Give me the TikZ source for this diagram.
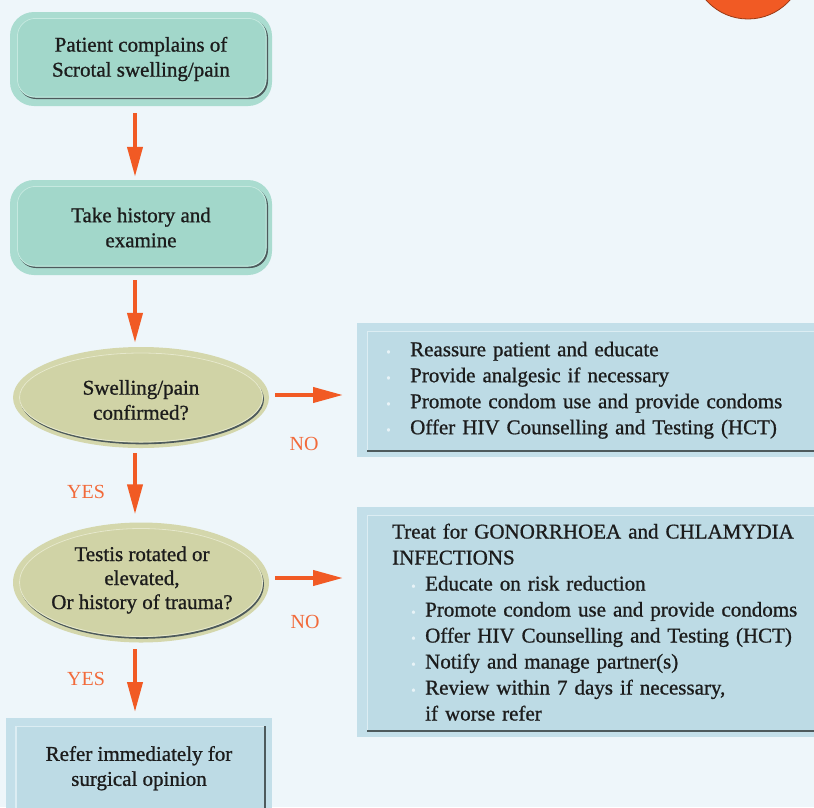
\documentclass[tikz,border=0pt]{standalone}
\usepackage{fontspec}
\setmainfont{Liberation Serif}[AutoFakeBold=0.9]
\usetikzlibrary{shapes.geometric,arrows.meta,calc}
\definecolor{bgc}{HTML}{EEF6FA}
\definecolor{tealout}{HTML}{AADCD0}
\definecolor{tealin}{HTML}{A2D7CA}
\definecolor{tealhi}{HTML}{C6E9E0}
\definecolor{khakiout}{HTML}{D4D7AC}
\definecolor{khakiin}{HTML}{D0D3A6}
\definecolor{khakihi}{HTML}{E6E8CC}
\definecolor{blueout}{HTML}{C3DFE9}
\definecolor{bluein}{HTML}{BDDBE5}
\definecolor{bluehi}{HTML}{DCEDF3}
\definecolor{shadec}{HTML}{4D5A5C}
\definecolor{arrowc}{HTML}{F15A24}
\definecolor{badgeedge}{HTML}{9A3A16}
\definecolor{labelc}{HTML}{F26A3A}
\definecolor{txt}{HTML}{1C1C1C}
\definecolor{bulc}{HTML}{E8F3F7}
\newcommand\bulitem{\makebox[24pt][l]{\textcolor{bulc}{\fontsize{13}{13}\selectfont •}}}
\newcommand\bulitemB{\makebox[14pt][l]{\textcolor{bulc}{\fontsize{13}{13}\selectfont •}}}
\begin{document}
\begin{tikzpicture}[x=1pt,y=-1pt,
  txtfont/.style={font=\fontsize{21}{25}\selectfont\bfseries, text=txt},
  bodyfont/.style={font=\fontsize{21}{26}\selectfont\bfseries, text=txt},
  lab/.style={font=\fontsize{20}{20}\selectfont, text=labelc, inner sep=0pt},
  flow/.style={draw=arrowc, line width=4pt, -{Triangle[width=15pt,length=30pt]}},
  rbox/.style={rectangle, rounded corners=24pt, fill=tealout, minimum width=262pt,
    align=center, txtfont, path picture={
      \fill[shadec, draw=none, rounded corners=18pt]
        ([shift={(8,7.5)}]path picture bounding box.north west) rectangle
        ([shift={(-4,-7)}]path picture bounding box.south east);
      \fill[tealin, draw=none, rounded corners=18pt]
        ([shift={(7,6)}]path picture bounding box.north west) rectangle
        ([shift={(-5.5,-8.5)}]path picture bounding box.south east);
      \draw[tealhi, fill=none, line width=0.8pt, rounded corners=18pt]
        ([shift={(7.4,6.4)}]path picture bounding box.north west) rectangle
        ([shift={(-5.9,-8.9)}]path picture bounding box.south east);
    }},
  ebox/.style 2 args={ellipse, inner sep=0pt, fill=khakiout, minimum width=256pt,
    path picture={
      \fill[shadec, draw=none] ([shift={(1,1.8)}]path picture bounding box.center)
        ellipse [x radius=#1, y radius=#2];
      \fill[khakiin, draw=none] (path picture bounding box.center)
        ellipse [x radius=#1, y radius=#2];
      \draw[khakihi, fill=none, line width=0.8pt] (path picture bounding box.center)
        ellipse [x radius=#1-0.5pt, y radius=#2-0.5pt];
    }},
  bbox/.style={rectangle, fill=blueout, path picture={
      \fill[bluein, draw=none]
        ([shift={(10,8)}]path picture bounding box.north west) rectangle
        ([shift={(-7,-6)}]path picture bounding box.south east);
      \draw[bluehi, fill=none, line width=1.2pt]
        ([shift={(10,-6)}]path picture bounding box.south west) --
        ([shift={(10,8)}]path picture bounding box.north west) --
        ([shift={(-7,8)}]path picture bounding box.north east);
      \draw[shadec, fill=none, line width=1.6pt]
        ([shift={(10,-6)}]path picture bounding box.south west) --
        ([shift={(-7,-6)}]path picture bounding box.south east) --
        ([shift={(-7,8)}]path picture bounding box.north east);
    }}]
\useasboundingbox (0,0) rectangle (814,807);
\fill[bgc] (0,0) rectangle (814,807);

% decorative badge
\node[circle, fill=arrowc, draw=badgeedge, line width=0.8pt, minimum size=112pt, inner sep=0pt] (badge) at (748,-37) {};

% left column
\node[rbox, minimum height=94pt] (b1) at (141,59) {Patient complains of\\Scrotal swelling/pain};
\node[rbox, minimum height=95pt] (b2) at (141,227.5) {Take history and\\examine};
\node[ebox={122pt}{45pt}, minimum height=101pt] (e1) at (141,397.5) {};
\node[txtfont, align=center] (e1t) at (141,400) {Swelling/pain\\confirmed?};
\node[ebox={122pt}{54.5pt}, minimum height=120pt] (e2) at (141,582.5) {};
\node[txtfont, align=center, font=\fontsize{21}{24}\selectfont\bfseries] (e2t) at (142,580) {Testis rotated or\\elevated,\\Or history of trauma?};
\node[bbox, txtfont, anchor=north, minimum width=266pt, minimum height=100pt, align=center] (b3) at (139,718) {Refer immediately for\\surgical opinion};

% right column
\node[bbox, bodyfont, anchor=north west, minimum height=134pt, text width=440pt, inner xsep=29pt, align=left] (r1) at (357,323)
  {\bulitem Reassure patient and educate\\
   \bulitem Provide analgesic if necessary\\
   \bulitem Promote condom use and provide condoms\\
   \bulitem Offer HIV Counselling and Testing (HCT)};
\node[bbox, bodyfont, anchor=north west, minimum height=230pt, text width=440pt, inner xsep=35pt, align=left] (r2) at (357,507)
  {Treat for GONORRHOEA and CHLAMYDIA\\
   INFECTIONS\\
   \hspace*{19pt}\bulitemB Educate on risk reduction\\
   \hspace*{19pt}\bulitemB Promote condom use and provide condoms\\
   \hspace*{19pt}\bulitemB Offer HIV Counselling and Testing (HCT)\\
   \hspace*{19pt}\bulitemB Notify and manage partner(s)\\
   \hspace*{19pt}\bulitemB Review within 7 days if necessary,\\
   \hspace*{33pt}if worse refer};

% connectors
\draw[flow, shorten <=7pt, shorten >=3pt] ([xshift=-6pt]b1.south) -- ([xshift=-6pt]b2.north);
\draw[flow, shorten <=5pt, shorten >=4pt] ([xshift=-6pt]b2.south) -- ([xshift=-6pt]e1.north);
\draw[flow, shorten <=5pt, shorten >=8pt] ([xshift=-6pt]e1.south) -- ([xshift=-6pt]e2.north);
\draw[flow, shorten <=6.5pt, shorten >=6pt] ([xshift=-6pt]e2.south) -- ([xshift=-4pt]b3.north);
\draw[flow, shorten <=6pt, shorten >=14pt] ($(e1.east)+(0,-2.5)$) -- ($(r1.west |- e1.east)+(0,-2.5)$);
\draw[flow, shorten <=6pt, shorten >=14pt] ($(e2.east)+(0,-4.5)$) -- ($(r2.west |- e2.east)+(0,-4.5)$);

% labels
\node[lab] (no1) at (304,443.5) {NO};
\node[lab] (no2) at (305,622) {NO};
\node[lab] (yes1) at (86,492) {YES};
\node[lab] (yes2) at (86,679) {YES};
\end{tikzpicture}
\end{document}
